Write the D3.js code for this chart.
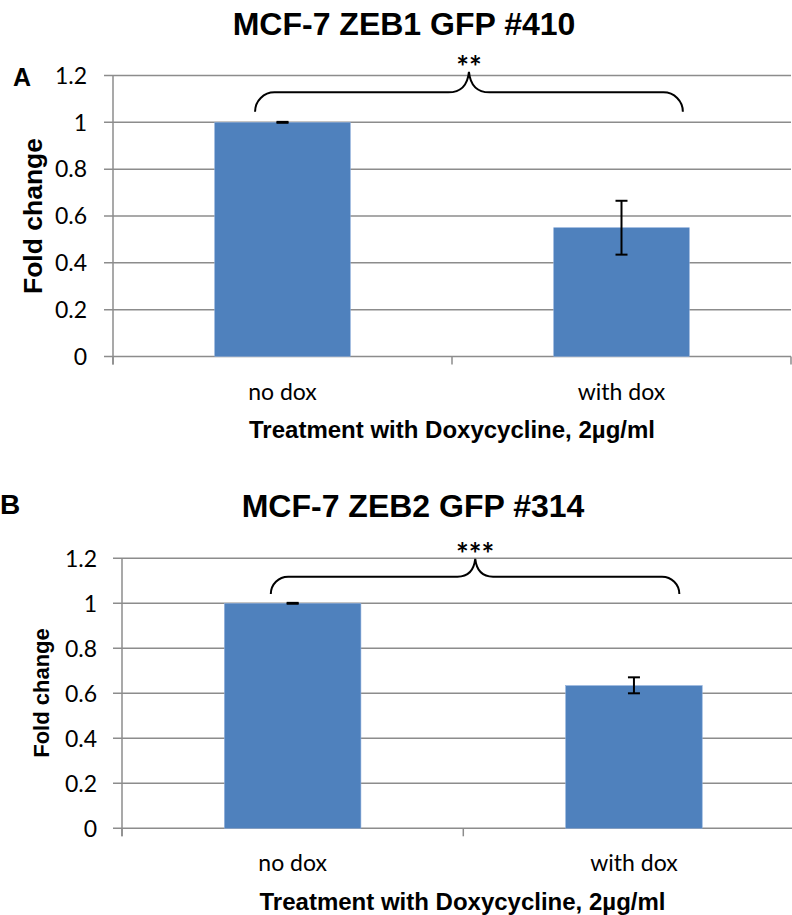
<!DOCTYPE html>
<html>
<head>
<meta charset="utf-8">
<script src="https://cdn.jsdelivr.net/npm/d3@7/dist/d3.min.js"></script>
<style>
  html, body { margin: 0; padding: 0; background: #fff; }
  svg { display: block; }
</style>
</head>
<body>
<svg id="chart" width="792" height="915"></svg>
<script>
// ---- data ----
const categories = ["no dox", "with dox"];
const yTicks = [0, 0.2, 0.4, 0.6, 0.8, 1, 1.2];

const titleA = "MCF-7 ZEB1 GFP #410";
const valuesA = [1.0, 0.55];
const errLowA = [0.998, 0.435];
const errHighA = [1.002, 0.665];
const starsA = "**";
// brace in data units: x in category units (0..2), y in fold change
const braceXA = [0.419, 1.050, 1.681];
const braceYA = [1.045, 1.128, 1.216];

const titleB = "MCF-7 ZEB2 GFP #314";
const valuesB = [1.0, 0.634];
const errLowB = [0.998, 0.600];
const errHighB = [1.002, 0.671];
const starsB = "***";
const braceXB = [0.436, 1.035, 1.633];
const braceYB = [1.041, 1.118, 1.197];

const xTitle = "Treatment with Doxycycline, 2\u00b5g/ml";
const yTitle = "Fold change";

// ---- drawing ----
const svg = d3.select("#chart");
const tickFont = "Lato, 'Open Sans', sans-serif";
const boldFont = "'Liberation Sans', Arial, sans-serif";
const gridColor = "#8c8c8c";
const barColor = "#4f81bd";

function drawPanel(o) {
  const g = svg.append("g");
  const x = d3.scaleBand().domain(o.categories).range([o.left, o.right]).paddingInner(0).paddingOuter(0);
  const xc = d3.scaleLinear().domain([0, 2]).range([o.left, o.right]);
  const y = d3.scaleLinear().domain([0, 1.2]).range([o.bottom, o.top]);
  const bw = x.bandwidth() * 0.4;

  // gridlines
  g.selectAll("line.grid").data(o.yTicks).join("line")
    .attr("x1", o.left - 9).attr("x2", o.right)
    .attr("y1", d => y(d)).attr("y2", d => y(d))
    .attr("stroke", gridColor).attr("stroke-width", 1.5);

  // y axis line
  g.append("line").attr("x1", o.left).attr("x2", o.left)
    .attr("y1", y(1.2)).attr("y2", o.bottom + 8)
    .attr("stroke", gridColor).attr("stroke-width", 1.5);
  // x ticks
  g.selectAll("line.xt").data([0, 1, 2]).join("line")
    .attr("x1", d => xc(d)).attr("x2", d => xc(d))
    .attr("y1", o.bottom).attr("y2", o.bottom + 8)
    .attr("stroke", gridColor).attr("stroke-width", 1.5);

  // y tick labels
  g.selectAll("text.yt").data(o.yTicks).join("text")
    .attr("x", o.tickLabelX).attr("y", d => y(d))
    .attr("dy", "0.36em").attr("text-anchor", "end")
    .attr("font-family", tickFont).attr("font-size", o.tickSize).attr("fill", "#000")
    .text(d => d === 0 ? "0" : d3.format("")(+d.toFixed(1)));

  // bars
  g.selectAll("rect.bar").data(o.values).join("rect")
    .attr("x", (d, i) => x(o.categories[i]) + (x.bandwidth() - bw) / 2)
    .attr("width", bw)
    .attr("y", d => y(d)).attr("height", d => o.bottom - y(d))
    .attr("fill", barColor).attr("stroke", "#8eaedb").attr("stroke-width", 0.6);

  // error bars
  o.values.forEach((v, i) => {
    const cx = x(o.categories[i]) + x.bandwidth() / 2;
    const y1 = y(o.errLow[i]), y2 = y(o.errHigh[i]);
    g.append("line").attr("x1", cx).attr("x2", cx).attr("y1", y1).attr("y2", y2)
      .attr("stroke", "#000").attr("stroke-width", 2);
    [y1, y2].forEach(yy => g.append("line").attr("x1", cx - 6).attr("x2", cx + 6)
      .attr("y1", yy).attr("y2", yy).attr("stroke", "#000").attr("stroke-width", 2));
  });

  // category labels
  g.selectAll("text.cat").data(o.categories).join("text")
    .attr("x", d => x(d) + x.bandwidth() / 2).attr("y", o.catY)
    .attr("dy", "0.36em").attr("text-anchor", "middle")
    .attr("font-family", tickFont).attr("font-size", o.tickSize).attr("fill", "#000")
    .text(d => d);

  // brace
  const bx = o.braceX.map(xc), by = o.braceY.map(y);
  const r = by[0] - by[1];
  const rp = by[1] - by[2];
  const p = d3.path();
  p.moveTo(bx[0], by[0]);
  p.arcTo(bx[0], by[1], bx[0] + r, by[1], r);
  p.lineTo(bx[1] - rp, by[1]);
  p.quadraticCurveTo(bx[1] - 2, by[1], bx[1], by[2]);
  p.quadraticCurveTo(bx[1] + 2, by[1], bx[1] + rp, by[1]);
  p.arcTo(bx[2], by[1], bx[2], by[0], r);
  p.lineTo(bx[2], by[0]);
  g.append("path").attr("d", p.toString()).attr("fill", "none")
    .attr("stroke", "#000").attr("stroke-width", 2);
  g.append("text").attr("x", bx[1]).attr("y", by[2] + o.starDy)
    .attr("text-anchor", "middle").attr("font-family", tickFont)
    .attr("font-weight", "bold")
    .attr("font-size", 30).attr("fill", "#000").text(o.stars);

  // title
  g.append("text").attr("x", o.titleX).attr("y", o.titleY)
    .attr("text-anchor", "middle").attr("font-family", boldFont)
    .attr("font-weight", "bold").attr("font-size", 32).attr("fill", "#000").text(o.title);
  // panel letter
  g.append("text").attr("x", o.letterX).attr("y", o.letterY)
    .attr("font-family", boldFont).attr("font-weight", "bold")
    .attr("font-size", o.letterSize).attr("fill", "#000").text(o.letter);
  // x title
  g.append("text").attr("x", o.xTitleX).attr("y", o.xTitleY)
    .attr("text-anchor", "middle").attr("font-family", boldFont)
    .attr("font-weight", "bold").attr("font-size", o.xTitleSize).attr("fill", "#000").text(xTitle);
  // y title
  g.append("text").attr("transform", `translate(${o.yTitleX},${o.yTitleY}) rotate(-90)`)
    .attr("text-anchor", "middle").attr("dy", "0.36em").attr("font-family", boldFont)
    .attr("font-weight", "bold").attr("font-size", o.yTitleSize).attr("fill", "#000").text(yTitle);
}

drawPanel({
  categories, yTicks, values: valuesA, errLow: errLowA, errHigh: errHighA,
  braceX: braceXA, braceY: braceYA, stars: starsA, starDy: 6, title: titleA, letter: "A",
  left: 113, right: 791, top: 75.5, bottom: 356.5,
  tickLabelX: 87, tickSize: 23, catY: 392,
  titleX: 404, titleY: 35, letterX: 13, letterY: 86, letterSize: 25,
  xTitleX: 452, xTitleY: 438, xTitleSize: 24,
  yTitleX: 32, yTitleY: 216, yTitleSize: 26.5
});

drawPanel({
  categories, yTicks, values: valuesB, errLow: errLowB, errHigh: errHighB,
  braceX: braceXB, braceY: braceYB, stars: starsB, starDy: 6, title: titleB, letter: "B",
  left: 122, right: 804.6, top: 558.3, bottom: 828.3,
  tickLabelX: 97, tickSize: 23, catY: 863,
  titleX: 413, titleY: 517, letterX: 0, letterY: 514, letterSize: 28,
  xTitleX: 462.5, xTitleY: 910, xTitleSize: 24,
  yTitleX: 41, yTitleY: 693, yTitleSize: 22
});
</script>
</body>
</html>
